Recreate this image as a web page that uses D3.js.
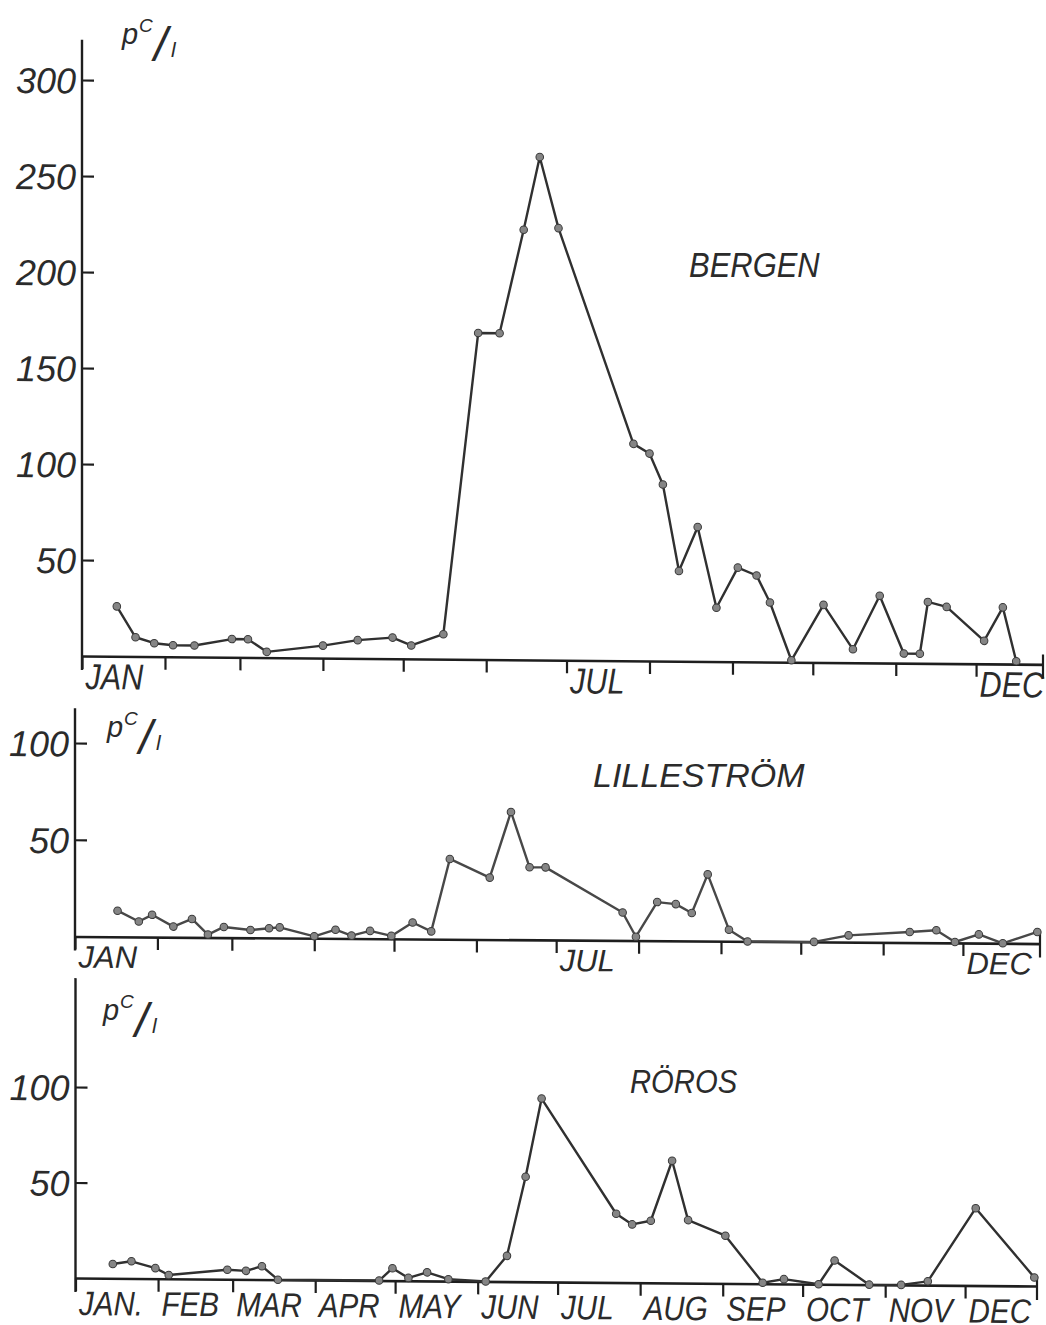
<!DOCTYPE html>
<html>
<head>
<meta charset="utf-8">
<script src="https://cdn.jsdelivr.net/npm/d3@7"></script>
<style>
  body { margin: 0; background: #fff; }
  text { font-family: "Liberation Sans", Arial, sans-serif; font-style: italic; fill: #2b2b2b; }
</style>
</head>
<body>
<div id="chart"></div>
<script>
// any non-leap year, the chart only shows day and month
const YEAR = 1963;

const bottomMonthLabels = ["JAN.", "FEB", "MAR", "APR", "MAY", "JUN", "JUL", "AUG", "SEP", "OCT", "NOV", "DEC"];
const sparseMonthLabels = ["JAN", "", "", "", "", "", "JUL", "", "", "", "", "DEC"];

const bergenTicks = [50, 100, 150, 200, 250, 300];
const smallTicks = [50, 100];

// sampling dates (MM-DD) and activity in pC/l
const bergenDates = ["01-14", "01-21", "01-28", "02-04", "02-12", "02-26", "03-04", "03-11", "04-01", "04-14",
  "04-27", "05-04", "05-16", "05-29", "06-06", "06-15", "06-21", "06-28", "07-26", "08-01",
  "08-06", "08-12", "08-19", "08-26", "09-03", "09-10", "09-15", "09-23", "10-05", "10-16",
  "10-26", "11-04", "11-10", "11-13", "11-20", "12-04", "12-11", "12-16"];
const bergenValues = [26, 10, 7, 6, 6, 9.5, 9.5, 3, 6.5, 9.5,
  11, 7, 13, 170, 170, 224, 262, 225, 113, 108,
  92, 47, 70, 28, 49, 45, 31, 1, 30, 7,
  35, 5, 5, 32, 29.5, 12, 29.5, 1.5];

const lillestromDates = ["01-17", "01-25", "01-30", "02-07", "02-14", "02-20", "02-26", "03-08", "03-15", "03-19",
  "04-01", "04-09", "04-15", "04-22", "04-30", "05-08", "05-15", "05-22", "06-06", "06-14",
  "06-21", "06-27", "07-26", "07-31", "08-08", "08-15", "08-21", "08-27", "09-04", "09-11",
  "10-06", "10-19", "11-11", "11-21", "11-28", "12-07", "12-16", "12-29"];
const lillestromValues = [13.5, 8, 11.5, 5.5, 9.5, 1.5, 5.5, 4, 5, 5.5,
  1, 4.5, 1.5, 4, 1.5, 8.5, 4, 41.5, 32, 66,
  37.5, 37.5, 14.5, 2, 20, 19, 14.5, 34.5, 6, 0,
  0, 3.5, 5.5, 6.5, 0.5, 4.5, 0, 6];

const rorosDates = ["01-15", "01-22", "01-31", "02-05", "02-27", "03-06", "03-12", "03-18", "04-25", "04-30",
  "05-06", "05-13", "05-21", "06-04", "06-12", "06-19", "06-25", "07-23", "07-29", "08-05",
  "08-13", "08-19", "09-02", "09-16", "09-24", "10-07", "10-13", "10-26", "11-07", "11-17",
  "12-05", "12-27"];
const rorosValues = [7.5, 9, 5.5, 2, 5, 4.5, 7, 0, 0, 6.5,
  1.5, 4.5, 1, 0, 13.5, 55, 96, 36, 30.5, 32.5,
  64, 33, 25, 0.5, 2.5, 0, 12.5, 0, 0, 2,
  40.5, 4.5];

const parseDay = s => new Date(YEAR, +s.slice(0, 2) - 1, +s.slice(3, 5));
const toSeries = (dates, values) => dates.map((d, i) => ({ date: parseDay(d), value: values[i] }));

const width = 1046, height = 1325;
const jan1 = new Date(YEAR, 0, 1);

const svg = d3.select("#chart").append("svg")
  .attr("width", width)
  .attr("height", height);

// layout of the three stacked panels (the original drawing is slightly tilted)
const panels = [
  {
    data: toSeries(bergenDates, bergenValues),
    x0: 82, x1: 1043, lastDay: 359, y0: 656, yRef: 300, yRefPos: 80, yTop: 321,
    ticks: bergenTicks, labels: sparseMonthLabels, labelSize: 36, labelDy: 33, labelSx: 0.85,
    skew: 0.5, lineColor: "#303030",
    name: "BERGEN", nameX: 689, nameY: 277, nameSize: 36, nameSx: 0.86,
    unit: { x: 122, y: 44 }
  },
  {
    data: toSeries(lillestromDates, lillestromValues),
    x0: 75, x1: 1040, lastDay: 363, y0: 936.5, yRef: 100, yRefPos: 743, yTop: 118,
    ticks: smallTicks, labels: sparseMonthLabels, labelSize: 31, labelDy: 31, labelSx: 1.0,
    skew: 0.42, lineColor: "#484848",
    name: "LILLESTRÖM", nameX: 593, nameY: 787, nameSize: 34, nameSx: 1.0,
    unit: { x: 107, y: 737 }
  },
  {
    data: toSeries(rorosDates, rorosValues),
    x0: 75.5, x1: 1037, lastDay: 361, y0: 1278, yRef: 100, yRefPos: 1087, yTop: 157,
    ticks: smallTicks, labels: bottomMonthLabels, labelSize: 34, labelDy: 37, labelSx: 0.87,
    skew: 0.48, lineColor: "#303030",
    name: "RÖROS", nameX: 630, nameY: 1093, nameSize: 34, nameSx: 0.86,
    unit: { x: 103, y: 1020 }
  }
];

panels.forEach(p => {
  const g = svg.append("g")
    .attr("transform", `translate(${p.x0},${p.y0}) skewY(${p.skew}) translate(${-p.x0},${-p.y0})`);

  const x = d3.scaleTime()
    .domain([jan1, d3.timeDay.offset(jan1, p.lastDay)])
    .range([p.x0, p.x1]);
  const y = d3.scaleLinear()
    .domain([0, p.yRef])
    .range([p.y0, p.yRefPos]);

  // month axis along the zero line
  const monthStarts = d3.timeMonth.range(jan1, new Date(YEAR, 11, 2));
  const xAxis = d3.axisBottom(x)
    .tickValues(monthStarts)
    .tickSize(13)
    .tickSizeOuter(0)
    .tickFormat(d => p.labels[d.getMonth()]);

  const xAxisEl = g.append("g")
    .attr("class", "x-axis")
    .attr("transform", `translate(0,${p.y0})`)
    .attr("font-family", null)
    .attr("font-size", null)
    .call(xAxis);

  xAxisEl.select(".domain").attr("stroke", "#1e1e1e").attr("stroke-width", 2.6);
  xAxisEl.selectAll(".tick line").attr("stroke", "#1e1e1e").attr("stroke-width", 2.2);
  xAxisEl.selectAll(".tick text")
    .attr("text-anchor", "start")
    .attr("x", 0)
    .attr("y", 0)
    .attr("dy", 0)
    .attr("transform", `translate(3,${p.labelDy}) scale(${p.labelSx},1)`)
    .attr("fill", "#2b2b2b")
    .style("font-size", p.labelSize + "px");

  // closing tick at the right end of the year
  g.append("line")
    .attr("x1", x.range()[1]).attr("x2", x.range()[1])
    .attr("y1", p.y0 - 10).attr("y2", p.y0 + 14)
    .attr("stroke", "#1e1e1e").attr("stroke-width", 2.2);

  // value axis
  g.append("line")
    .attr("x1", p.x0).attr("x2", p.x0)
    .attr("y1", y(p.yTop)).attr("y2", p.y0 + 14)
    .attr("stroke", "#1e1e1e").attr("stroke-width", 2.4);

  const yAxis = d3.axisLeft(y)
    .tickValues(p.ticks)
    .tickSize(-12)
    .tickPadding(6)
    .tickFormat(d3.format("d"));

  const yAxisEl = g.append("g")
    .attr("class", "y-axis")
    .attr("transform", `translate(${p.x0},0)`)
    .attr("font-family", null)
    .attr("font-size", null)
    .call(yAxis);

  yAxisEl.select(".domain").remove();
  yAxisEl.selectAll(".tick line").attr("stroke", "#1e1e1e").attr("stroke-width", 2.2);
  yAxisEl.selectAll(".tick text")
    .attr("fill", "#2b2b2b")
    .attr("dy", "0.36em")
    .style("font-size", "36px");

  // measured series
  const line = d3.line()
    .x(d => x(d.date))
    .y(d => y(d.value));

  g.append("path")
    .datum(p.data)
    .attr("class", "line")
    .attr("fill", "none")
    .attr("stroke", p.lineColor)
    .attr("stroke-width", 2.4)
    .attr("stroke-linejoin", "round")
    .attr("d", line);

  g.selectAll(".data-point")
    .data(p.data)
    .enter()
    .append("circle")
    .attr("class", "data-point")
    .attr("cx", d => x(d.date))
    .attr("cy", d => y(d.value))
    .attr("r", 3.8)
    .attr("fill", "#858585")
    .attr("stroke", "#3a3a3a")
    .attr("stroke-width", 1);

  // station name
  svg.append("text")
    .attr("transform", `translate(${p.nameX},${p.nameY}) scale(${p.nameSx},1)`)
    .style("font-size", p.nameSize + "px")
    .text(p.name);

  // unit label pC/l, stacked like the hand lettering
  const u = svg.append("text");
  u.append("tspan").attr("x", p.unit.x).attr("y", p.unit.y).style("font-size", "29px").text("p");
  u.append("tspan").attr("x", p.unit.x + 17).attr("y", p.unit.y - 12).style("font-size", "19px").text("C");
  u.append("tspan").attr("x", p.unit.x + 32).attr("y", p.unit.y + 17).style("font-size", "48px").text("/");
  u.append("tspan").attr("x", p.unit.x + 49).attr("y", p.unit.y + 13).style("font-size", "21px").text("l");
});
</script>
</body>
</html>
